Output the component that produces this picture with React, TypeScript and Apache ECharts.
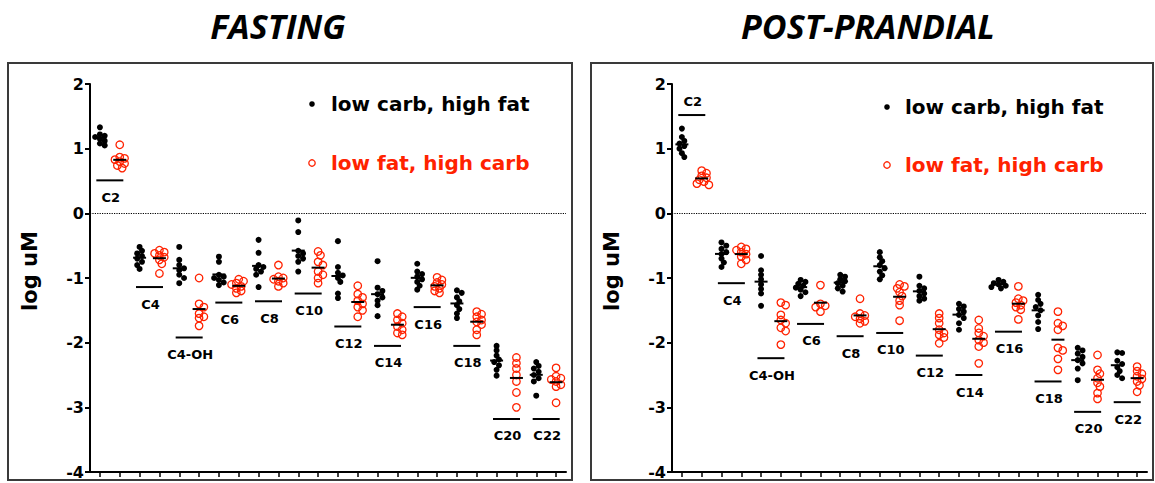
import React, { useEffect, useRef } from "react";
import * as echarts from "echarts";

const groups = ["C2", "C4", "C4-OH", "C6", "C8", "C10", "C12", "C14", "C16", "C18", "C20", "C22"];
const yTicks = [-4, -3, -2, -1, 0, 1, 2];
const panelTitles = ["FASTING", "POST-PRANDIAL"];
const legendNames = ["low carb, high fat", "low fat, high carb"];

// FASTING
const fastLC: number[][] = [
  [1.33, 1.22, 1.2, 1.18, 1.15, 1.12, 1.08, 1.05],
  [-0.52, -0.58, -0.62, -0.66, -0.7, -0.75, -0.8, -0.86],
  [-0.52, -0.72, -0.8, -0.85, -0.88, -0.95, -1.0, -1.08],
  [-0.67, -0.75, -0.95, -0.98, -1.0, -1.03, -1.07, -1.11],
  [-0.41, -0.61, -0.8, -0.83, -0.86, -0.9, -0.95, -1.14],
  [-0.11, -0.29, -0.58, -0.62, -0.66, -0.7, -0.75, -0.9],
  [-0.43, -0.83, -0.92, -0.96, -1.0, -1.06, -1.24, -1.31],
  [-0.74, -1.15, -1.2, -1.25, -1.3, -1.35, -1.42, -1.59],
  [-0.78, -0.9, -0.94, -0.98, -1.02, -1.06, -1.12, -1.18],
  [-1.19, -1.23, -1.3, -1.36, -1.42, -1.48, -1.55, -1.62],
  [-2.05, -2.12, -2.2, -2.26, -2.3, -2.35, -2.42, -2.51],
  [-2.3, -2.36, -2.4, -2.45, -2.5, -2.55, -2.6, -2.82],
];
const fastLF: number[][] = [
  [1.06, 0.87, 0.85, 0.83, 0.8, 0.77, 0.74, 0.7],
  [-0.57, -0.6, -0.62, -0.65, -0.68, -0.72, -0.78, -0.93],
  [-1.0, -1.4, -1.45, -1.55, -1.6, -1.62, -1.74],
  [-1.02, -1.05, -1.08, -1.1, -1.13, -1.16, -1.2, -1.23],
  [-0.8, -0.98, -1.0, -1.02, -1.05, -1.08, -1.13],
  [-0.59, -0.65, -0.75, -0.8, -0.9, -0.95, -1.0, -1.08],
  [-1.12, -1.25, -1.3, -1.35, -1.4, -1.45, -1.5, -1.6],
  [-1.55, -1.6, -1.65, -1.7, -1.75, -1.8, -1.85, -1.88],
  [-0.99, -1.03, -1.07, -1.1, -1.13, -1.16, -1.2, -1.23],
  [-1.52, -1.56, -1.6, -1.65, -1.68, -1.72, -1.8, -1.88],
  [-2.23, -2.32, -2.4, -2.5, -2.6, -2.77, -3.0],
  [-2.39, -2.52, -2.55, -2.57, -2.6, -2.65, -2.68, -2.93],
];
const fastLabelLine = [0.51, -1.14, -1.92, -1.38, -1.36, -1.24, -1.75, -2.05, -1.45, -2.05, -3.18, -3.18];
const fastLabelAbove = [false, false, false, false, false, false, false, false, false, false, false, false];

// POST-PRANDIAL
const postLC: number[][] = [
  [1.31, 1.18, 1.12, 1.08, 1.04, 1.0, 0.93, 0.87],
  [-0.45, -0.5, -0.55, -0.6, -0.63, -0.7, -0.76, -0.83],
  [-0.66, -0.88, -0.95, -1.02, -1.1, -1.17, -1.24, -1.43],
  [-1.03, -1.06, -1.09, -1.12, -1.15, -1.18, -1.22, -1.28],
  [-0.95, -0.98, -1.02, -1.05, -1.08, -1.12, -1.16, -1.21],
  [-0.6, -0.68, -0.74, -0.8, -0.85, -0.9, -0.96, -1.02],
  [-0.98, -1.12, -1.16, -1.2, -1.24, -1.28, -1.32, -1.35],
  [-1.4, -1.44, -1.48, -1.52, -1.57, -1.62, -1.7, -1.8],
  [-1.03, -1.06, -1.08, -1.1, -1.12, -1.14, -1.16],
  [-1.26, -1.34, -1.4, -1.45, -1.5, -1.58, -1.68, -1.79],
  [-2.08, -2.12, -2.17, -2.22, -2.27, -2.32, -2.4, -2.58],
  [-2.15, -2.16, -2.28, -2.33, -2.38, -2.44, -2.5, -2.55],
];
const postLF: number[][] = [
  [0.66, 0.62, 0.58, 0.55, 0.52, 0.49, 0.46, 0.44],
  [-0.52, -0.55, -0.57, -0.6, -0.63, -0.67, -0.72, -0.78],
  [-1.38, -1.42, -1.57, -1.65, -1.7, -1.77, -1.82, -2.03],
  [-1.11, -1.4, -1.43, -1.45, -1.52],
  [-1.32, -1.55, -1.58, -1.6, -1.63, -1.67, -1.7],
  [-1.1, -1.13, -1.16, -1.22, -1.28, -1.35, -1.42, -1.66],
  [-1.55, -1.62, -1.7, -1.8, -1.85, -1.88, -1.92, -2.01],
  [-1.65, -1.78, -1.85, -1.9, -1.96, -2.0, -2.06, -2.32],
  [-1.13, -1.32, -1.35, -1.38, -1.42, -1.45, -1.49, -1.64],
  [-1.52, -1.7, -1.74, -1.8, -2.08, -2.12, -2.25, -2.42],
  [-2.19, -2.42, -2.48, -2.55, -2.62, -2.68, -2.78, -2.87],
  [-2.37, -2.44, -2.48, -2.52, -2.56, -2.6, -2.66, -2.76],
];
const postLabelLine = [1.52, -1.08, -2.24, -1.71, -1.9, -1.85, -2.2, -2.5, -1.83, -2.6, -3.07, -2.92];
const postLabelAbove = [true, false, false, false, false, false, false, false, false, false, false, false];

const RED = "#ff2200";
const FONT = "DejaVu Sans";
const PX_PER_Y = 388 / 6;
const PX_PER_X = 476 / 24;

function swarm(vals: number[], col: number): number[][] {
  const sorted = [...vals].sort((a, b) => b - a);
  const placed: { x: number; y: number; v: number }[] = [];
  const steps = [0, 1, -1, 2, -2, 3, -3];
  for (const v of sorted) {
    const yp = v * PX_PER_Y;
    let done = false;
    for (const k of steps) {
      const xp = k * 2.4;
      if (placed.every((p) => Math.hypot(p.x - xp, p.y - yp) >= 4.2)) {
        placed.push({ x: xp, y: yp, v });
        done = true;
        break;
      }
    }
    if (!done) placed.push({ x: 0, y: yp, v });
  }
  return placed.map((p) => [col + p.x / PX_PER_X, p.v]);
}

const mean = (a: number[]) => a.reduce((s, x) => s + x, 0) / a.length;

function panelSeries(gi: number, lc: number[][], lf: number[][], lineY: number[], above: boolean[]) {
  const black: number[][] = [];
  const red: number[][] = [];
  const means: number[][] = [];
  lc.forEach((vals, i) => {
    black.push(...swarm(vals, 2 * i));
    means.push([2 * i, mean(vals)]);
  });
  lf.forEach((vals, i) => {
    red.push(...swarm(vals, 2 * i + 1));
    means.push([2 * i + 1, mean(vals)]);
  });
  const labels = groups.map((g, i) => [2 * i + 0.5, lineY[i]]);
  return [
    {
      type: "scatter",
      xAxisIndex: gi * 2 + 1,
      yAxisIndex: gi,
      data: black,
      symbol: "circle",
      symbolSize: 6,
      itemStyle: { color: "#000", opacity: 1 },
      z: 3,
      markLine: {
        silent: true,
        symbol: "none",
        label: { show: false },
        lineStyle: { type: "dotted", color: "#000", width: 1.2 },
        data: [{ yAxis: 0 }],
      },
    },
    {
      type: "scatter",
      xAxisIndex: gi * 2 + 1,
      yAxisIndex: gi,
      data: red,
      symbol: "circle",
      symbolSize: 7.5,
      itemStyle: { color: "rgba(0,0,0,0)", borderColor: RED, borderWidth: 1.3, opacity: 1 },
      z: 3,
    },
    {
      type: "custom",
      xAxisIndex: gi * 2 + 1,
      yAxisIndex: gi,
      data: means,
      z: 4,
      renderItem: (params: any, api: any) => {
        const p = api.coord([api.value(0), api.value(1)]);
        return {
          type: "line",
          shape: { x1: p[0] - 6.5, y1: p[1], x2: p[0] + 6.5, y2: p[1] },
          style: { stroke: "#000", lineWidth: 2 },
        };
      },
    },
    {
      type: "custom",
      xAxisIndex: gi * 2 + 1,
      yAxisIndex: gi,
      data: labels,
      z: 4,
      renderItem: (params: any, api: any) => {
        const p = api.coord([api.value(0), api.value(1)]);
        const up = above[params.dataIndex];
        return {
          type: "group",
          children: [
            {
              type: "line",
              shape: { x1: p[0] - 13.5, y1: p[1], x2: p[0] + 13.5, y2: p[1] },
              style: { stroke: "#000", lineWidth: 2 },
            },
            {
              type: "text",
              x: p[0] + 1,
              y: up ? p[1] - 14 : p[1] + 17,
              style: {
                text: groups[params.dataIndex],
                fontFamily: FONT,
                fontWeight: "bold",
                fontSize: 13,
                fill: "#000",
                align: "center",
                verticalAlign: "middle",
              },
            },
          ],
        };
      },
    },
  ];
}

function axesFor(gi: number) {
  const cats: string[] = [];
  groups.forEach((g) => {
    cats.push(g + " " + legendNames[0]);
    cats.push(g + " " + legendNames[1]);
  });
  return [
    {
      type: "category",
      gridIndex: gi,
      data: cats,
      boundaryGap: true,
      axisLine: { show: true, onZero: false, lineStyle: { color: "#000", width: 2 } },
      axisTick: { show: true, interval: 0, alignWithLabel: true, length: 5, lineStyle: { color: "#000", width: 1.5 } },
      axisLabel: { show: false, interval: 0 },
      splitLine: { show: false },
    },
    {
      type: "value",
      gridIndex: gi,
      min: -0.5,
      max: 23.5,
      show: false,
      splitLine: { show: false },
    },
  ];
}

function yAxisFor(gi: number) {
  return {
    type: "value",
    gridIndex: gi,
    min: yTicks[0],
    max: yTicks[yTicks.length - 1],
    interval: 1,
    axisLine: { show: true, onZero: false, lineStyle: { color: "#000", width: 2 } },
    axisTick: { show: true, length: 5, lineStyle: { color: "#000", width: 2 } },
    axisLabel: {
      color: "#000",
      fontFamily: FONT,
      fontWeight: "bold",
      fontSize: 16,
      margin: 6,
    },
    splitLine: { show: false },
  };
}

function legendGraphics(bx: number, tx: number, y1: number, y2: number) {
  return [
    { type: "circle", shape: { cx: bx, cy: y1, r: 2.8 }, style: { fill: "#000" }, silent: true },
    {
      type: "circle",
      shape: { cx: bx, cy: y2, r: 3.2 },
      style: { fill: "none", stroke: RED, lineWidth: 1.3 },
      silent: true,
    },
    {
      type: "text",
      x: tx,
      y: y1,
      style: {
        text: legendNames[0],
        fontFamily: FONT,
        fontWeight: "bold",
        fontSize: 20,
        fill: "#000",
        align: "left",
        verticalAlign: "middle",
      },
      silent: true,
    },
    {
      type: "text",
      x: tx,
      y: y2,
      style: {
        text: legendNames[1],
        fontFamily: FONT,
        fontWeight: "bold",
        fontSize: 20,
        fill: RED,
        align: "left",
        verticalAlign: "middle",
      },
      silent: true,
    },
  ];
}

function titleText(text: string, x: number) {
  return {
    type: "text",
    x,
    y: 26,
    style: {
      text,
      fontFamily: "Open Sans",
      fontWeight: "bold",
      fontStyle: "italic",
      fontSize: 34,
      fill: "#000",
      align: "center",
      verticalAlign: "middle",
    },
    silent: true,
  };
}

function yName(x: number) {
  return {
    type: "text",
    x,
    y: 271,
    rotation: Math.PI / 2,
    style: {
      text: "log uM",
      fontFamily: FONT,
      fontWeight: "bold",
      fontSize: 21,
      fill: "#000",
      align: "center",
      verticalAlign: "middle",
    },
    silent: true,
  };
}

export default function App() {
  const ref = useRef<HTMLDivElement>(null);
  useEffect(() => {
    document.body.style.margin = "0";
    if (!ref.current) return;
    const chart = echarts.init(ref.current, undefined, { renderer: "svg" });
    const option: any = {
      animation: false,
      backgroundColor: "#fff",
      grid: [
        { left: 90, top: 84, width: 476, height: 388 },
        { left: 672, top: 84, width: 475, height: 388 },
      ],
      xAxis: [...axesFor(0), ...axesFor(1)],
      yAxis: [yAxisFor(0), yAxisFor(1)],
      series: [
        ...panelSeries(0, fastLC, fastLF, fastLabelLine, fastLabelAbove),
        ...panelSeries(1, postLC, postLF, postLabelLine, postLabelAbove),
      ],
      graphic: [
        {
          type: "rect",
          shape: { x: 8, y: 63, width: 564, height: 417 },
          style: { fill: "none", stroke: "#3a3a3a", lineWidth: 2 },
          silent: true,
        },
        {
          type: "rect",
          shape: { x: 591, y: 63, width: 562, height: 417 },
          style: { fill: "none", stroke: "#3a3a3a", lineWidth: 2 },
          silent: true,
        },
        titleText(panelTitles[0], 278),
        titleText(panelTitles[1], 868),
        yName(30),
        yName(612),
        ...legendGraphics(312, 331, 104, 163),
        ...legendGraphics(887, 905, 107, 165),
      ],
    };
    chart.setOption(option);
    return () => chart.dispose();
  }, []);
  return <div ref={ref} style={{ width: 1155, height: 483 }} />;
}
